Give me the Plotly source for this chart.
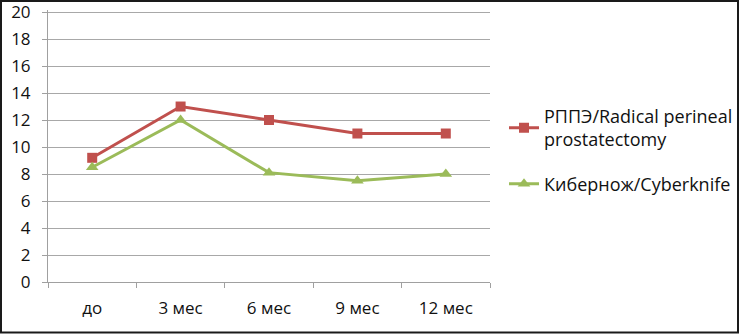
import plotly.graph_objects as go

categories = ["до", "3 мес", "6 мес", "9 мес", "12 мес"]
rppe = [9.2, 13, 12, 11, 11]
cyber = [8.5, 12, 8.1, 7.5, 8]
names = ["РППЭ/Radical perineal<br>prostatectomy", "Кибернож/Cyberknife"]
y_ticks = [0, 2, 4, 6, 8, 10, 12, 14, 16, 18, 20]

font = "Open Sans, Liberation Sans, sans-serif"

L, R, T, B = 48, 249, 10, 53
W, H = 739, 335
pw, ph = W - L - R, H - T - B

fig = go.Figure()
fig.add_trace(go.Scatter(x=categories, y=rppe, name=names[0], mode="lines+markers",
                         legendgroup="a",
                         line=dict(color="#c0504d", width=3),
                         marker=dict(symbol="square", size=10, color="#c0504d")))
fig.add_trace(go.Scatter(x=categories, y=cyber, name=names[1], mode="lines+markers",
                         legendgroup="b",
                         line=dict(color="#9bbb59", width=3),
                         marker=dict(symbol="triangle-up", size=11, color="#9bbb59")))

fig.update_layout(
    width=W, height=H,
    margin=dict(l=L, r=R, t=T, b=B, autoexpand=False),
    paper_bgcolor="white", plot_bgcolor="white",
    font=dict(family=font, size=17, color="#111111"),
    showlegend=True,
    legend=dict(x=1.0317, y=0.677, xanchor="left", yanchor="top",
                font=dict(size=18), tracegroupgap=18, bgcolor="rgba(0,0,0,0)"),
    xaxis=dict(type="category", tickson="boundaries", ticks="outside", ticklen=5,
               tickcolor="#a0a0a0", showline=True, linecolor="#a0a0a0", linewidth=1,
               showgrid=False, range=[-0.5, 4.5], ticklabelstandoff=11, automargin=False,
               ticklabeloverflow="allow"),
    yaxis=dict(range=[0, 20.15], tickvals=y_ticks,
               ticks="outside", ticklen=5, tickcolor="#a0a0a0",
               showline=True, linecolor="#a0a0a0", linewidth=1,
               gridcolor="#a8a8a8", gridwidth=1, zeroline=False, ticklabelstandoff=8,
               automargin=False, ticklabeloverflow="allow"),
    shapes=[dict(type="rect", xref="paper", yref="paper",
                 x0=(1 - L) / pw, x1=(W - 1 - L) / pw,
                 y0=-(B - 2.5) / ph, y1=1 + (T - 1) / ph,
                 line=dict(color="#1a1a1a", width=2))],
)

fig.write_html("out.html", config={"displayModeBar": False},
               post_script="document.body.style.margin='0';document.body.style.overflow='hidden';")
